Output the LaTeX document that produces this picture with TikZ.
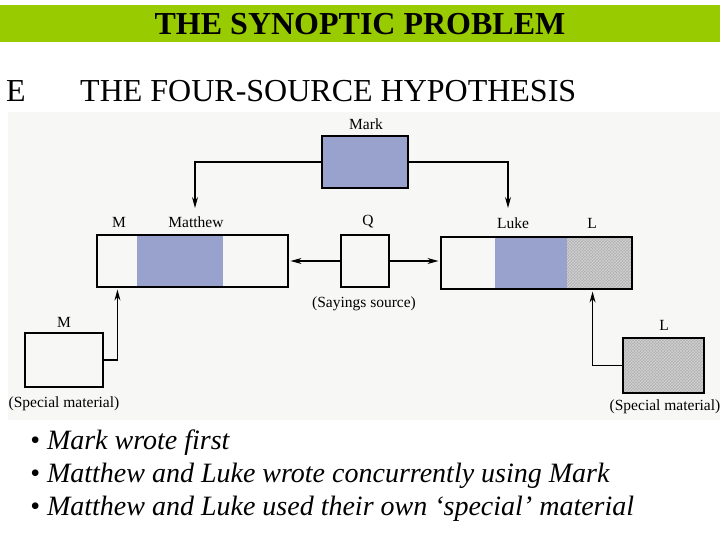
\documentclass[tikz,border=0pt]{standalone}
\usepackage{fontspec}
\setmainfont{Liberation Serif}
\usetikzlibrary{arrows.meta,patterns}
\definecolor{banner}{RGB}{153,204,0}
\definecolor{markblue}{RGB}{152,162,204}
\definecolor{scan}{RGB}{247,247,246}
\tikzset{
  src/.style={draw,line width=1.1pt,inner sep=0pt},
  lbl/.style={font=\fontsize{15.5}{18}\selectfont},
  arr/.style={line width=1.1pt,-{Stealth[length=11pt,width=6pt]}},
  bullet/.style={anchor=west,inner sep=0pt,font=\fontsize{28}{32}\selectfont\itshape}
}
\begin{document}
\begin{tikzpicture}[x=1pt,y=-1pt]
  \useasboundingbox (0,0) rectangle (720,540);
  % heading
  \fill[banner] (0,5) rectangle (720,42);
  \node[font=\fontsize{32}{38}\selectfont\bfseries] (title) at (360,24) {THE SYNOPTIC PROBLEM};
  \node[font=\fontsize{32}{38}\selectfont] (part) at (16,91) {E};
  \node[font=\fontsize{32}{38}\selectfont,anchor=west,inner sep=0pt] (hyp) at (80,91) {THE FOUR-SOURCE HYPOTHESIS};
  % scanned page
  \fill[scan] (8,112) rectangle (720,420);
  % shading inside the gospels
  \fill[markblue] (322,136) rectangle (408,188);
  \fill[markblue] (137,235) rectangle (223,287);
  \fill[markblue] (495,237) rectangle (567,289);
  \fill[gray!62] (567,237) rectangle (632,289);
  \fill[pattern=crosshatch,pattern color=gray!35] (567,237) rectangle (632,289);
  \fill[gray!62] (623,338) rectangle (704,393);
  \fill[pattern=crosshatch,pattern color=gray!35] (623,338) rectangle (704,393);
  % boxes
  \node[src,minimum width=86pt,minimum height=52pt] (mark) at (365,162) {};
  \node[src,minimum width=191pt,minimum height=52pt] (matt) at (192.5,261) {};
  \node[src,minimum width=48pt,minimum height=52pt] (q) at (365,261) {};
  \node[src,minimum width=191pt,minimum height=52pt] (luke) at (536.5,263) {};
  \node[src,minimum width=78pt,minimum height=54pt] (mspec) at (64,360) {};
  \node[src,minimum width=81pt,minimum height=55pt] (lspec) at (663.5,365.5) {};
  % labels
  \node[lbl] (marklbl) at (366,124) {Mark};
  \node[lbl] (mlbl) at (119,222) {M};
  \node[lbl] (mattlbl) at (196,222) {Matthew};
  \node[lbl] (qlbl) at (368,222) {Q};
  \node[lbl] (lukelbl) at (513,223) {Luke};
  \node[lbl] (llbl) at (592,223) {L};
  \node[lbl] (qsrc) at (364,304) {(Sayings source)};
  \node[lbl] (mspeclbl) at (64,322) {M};
  \node[lbl] (mspecsrc) at (64,404) {(Special material)};
  \node[lbl] (lspeclbl) at (664,325) {L};
  \node[lbl] (lspecsrc) at (665,407) {(Special material)};
  % arrows
  \coordinate (tomatt) at (195,208);
  \coordinate (toluke) at (508,208);
  \draw[arr] (mark.west) -| (tomatt);
  \draw[arr] (mark.east) -| (toluke);
  \draw[arr,shorten >=2pt] (q.west) -- (matt.east |- q.west);
  \draw[arr,shorten >=2pt] (q.east) -- (luke.west |- q.east);
  \draw[arr,shorten >=2pt] (mspec.east) -| ([xshift=21pt]matt.south west);
  \draw[arr,shorten >=2pt] (lspec.west) -| ([xshift=-40pt]luke.south east);
  % summary
  \node[bullet] (b1) at (30,443) {• Mark wrote first};
  \node[bullet] (b2) at (30,476) {• Matthew and Luke wrote concurrently using Mark};
  \node[bullet] (b3) at (30,509) {• Matthew and Luke used their own ‘special’ material};
\end{tikzpicture}
\end{document}
